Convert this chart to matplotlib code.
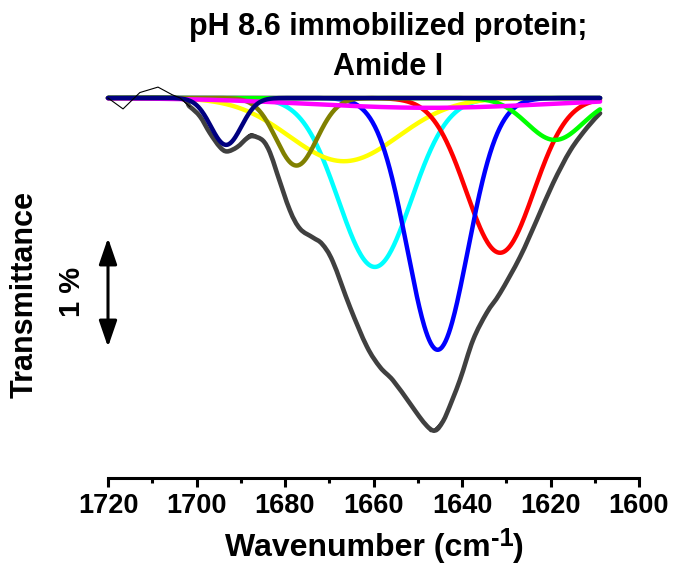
import numpy as np
import matplotlib
matplotlib.use("Agg")
import matplotlib.pyplot as plt
from matplotlib.patches import FancyArrowPatch, PathPatch
from matplotlib.path import Path

plt.rcParams['font.family'] = ['Liberation Sans', 'DejaVu Sans']
plt.rcParams['font.weight'] = 'bold'

# ---- data ----
# deconvoluted component bands: centre (cm-1), depth (% T), sigma (cm-1)
band_colors = ['#00FFFF', '#FFFF00', '#FF0000', '#0000FF', '#00FF00', '#808000', '#FF00FF', '#000080']
band_centers = [1659.7, 1666.7, 1631.4, 1645.5, 1619.0, 1677.4, 1647.2, 1693.3]
band_depths = [1.55, 0.58, 1.42, 2.31, 0.385, 0.62, 0.09, 0.43]
band_sigmas = [8.2, 12.3, 7.6, 6.8, 6.3, 4.6, 27.0, 3.45]

# fitted envelope (dark grey)
fit_wn = [1720, 1704.4, 1701.5, 1699.2, 1697.0, 1694.7, 1693.1, 1690.8, 1688.6, 1687.2,
          1685.0, 1683.4, 1681.8, 1678.9, 1676.6, 1673.7, 1671.6, 1669.2, 1665.3, 1661.5,
          1658.5, 1655.6, 1651.8, 1649.7, 1647.9, 1646.6, 1645.6, 1644.5, 1643.4, 1640.5,
          1637.5, 1634.4, 1631.4, 1626.9, 1623.1, 1619.4, 1615.5, 1611.7, 1608.8]
fit_T = [0, 0, -0.08, -0.17, -0.32, -0.45, -0.49, -0.45, -0.37, -0.35,
         -0.39, -0.50, -0.69, -1.03, -1.20, -1.28, -1.34, -1.50, -1.92, -2.28,
         -2.47, -2.59, -2.80, -2.92, -3.01, -3.05, -3.04, -2.98, -2.89, -2.59,
         -2.22, -1.97, -1.79, -1.46, -1.12, -0.78, -0.48, -0.27, -0.14]

# measured spectrum (thin black)
raw_wn = [1720, 1716.6, 1712.8, 1708.7, 1705.5, 1703.7, 1701.5, 1699.2, 1697.0, 1694.7,
          1693.1, 1690.8, 1688.6, 1687.2, 1685.0, 1683.4, 1681.8, 1678.9, 1676.6, 1673.7,
          1671.6, 1669.2, 1665.3, 1661.5, 1658.5, 1655.6, 1651.8, 1647.9, 1646.6, 1643.4,
          1640.5, 1637.5, 1634.4, 1631.4, 1626.9, 1623.1, 1619.4, 1615.5, 1611.7, 1608.8]
raw_T = [0, -0.10, 0.05, 0.10, 0.03, 0, -0.08, -0.17, -0.32, -0.45,
         -0.49, -0.45, -0.35, -0.33, -0.39, -0.50, -0.69, -1.03, -1.20, -1.28,
         -1.34, -1.50, -1.92, -2.28, -2.47, -2.59, -2.80, -3.02, -3.05, -2.89,
         -2.59, -2.22, -1.97, -1.79, -1.46, -1.12, -0.78, -0.48, -0.27, -0.14]

title_lines = ['pH 8.6 immobilized protein;', 'Amide I']
xticks = [1720, 1700, 1680, 1660, 1640, 1620, 1600]


def smooth_path(xs, ys):
    """Cubic Bezier path passing through every given point (Catmull-Rom tangents)."""
    p = np.column_stack([xs, ys]).astype(float)
    n = len(p)
    verts = [p[0]]
    codes = [Path.MOVETO]
    for i in range(n - 1):
        p0 = p[i - 1] if i > 0 else p[i]
        p3 = p[i + 2] if i + 2 < n else p[i + 1]
        c1 = p[i] + (p[i + 1] - p0) / 6.0
        c2 = p[i + 1] - (p3 - p[i]) / 6.0
        verts += [c1, c2, p[i + 1]]
        codes += [Path.CURVE4] * 3
    return Path(verts, codes)


W, H = 674, 569
fig = plt.figure(figsize=(W / 100, H / 100), dpi=100)
ax = fig.add_axes([108 / W, 1 - 478 / H, (639 - 108) / W, (478 - 90) / H])

grid = np.linspace(fit_wn[0], fit_wn[-1], 600)
for c, mu, d, s in zip(band_colors, band_centers, band_depths, band_sigmas):
    ax.plot(grid, -d * np.exp(-0.5 * ((grid - mu) / s) ** 2), color=c, lw=3.2,
            solid_capstyle='round', clip_on=False)

ax.plot(raw_wn[:7], raw_T[:7], color='black', lw=0.8, clip_on=False)
ax.add_patch(PathPatch(smooth_path(raw_wn[5:], raw_T[5:]), facecolor='none',
                       edgecolor='black', lw=0.8, clip_on=False))
ax.add_patch(PathPatch(smooth_path(fit_wn, fit_T), facecolor='none',
                       edgecolor='#404040', lw=3.3, capstyle='round',
                       joinstyle='round', clip_on=False))

ax.set_xlim(1720, 1600)
ax.set_ylim(-(478 - 98) / 109, (98 - 90) / 109)
for sp in ['top', 'right', 'left']:
    ax.spines[sp].set_visible(False)
ax.spines['bottom'].set_linewidth(2.2)
ax.set_yticks([])
ax.set_xticks(xticks)
ax.set_xticks(np.arange(1710, 1600, -20), minor=True)
ax.tick_params(axis='x', which='major', direction='out', length=6.5, width=2.2,
               labelsize=19.5, pad=4)
ax.tick_params(axis='x', which='minor', direction='out', length=3.6, width=2.2)
for lab in ax.get_xticklabels():
    lab.set_fontweight('bold')

# x label built from pieces so the superscript uses a plain hyphen
fig.canvas.draw()
renderer = fig.canvas.get_renderer()
xl_size = 23
parts = [('Wavenumber (cm', xl_size, 0), ('-1', xl_size * 0.8, 10), (')', xl_size, 0)]
objs = []
for txt, sz, dy in parts:
    t = fig.text(0, 0, txt, fontsize=sz, fontweight='bold', ha='left', va='baseline')
    objs.append((t, dy))
widths = [t.get_window_extent(renderer).width for t, _ in objs]
total = sum(widths)
x0 = 374.5 - total / 2
base = 556
for (t, dy), w in zip(objs, widths):
    t.set_position((x0 / W, 1 - (base - dy) / H))
    x0 += w

fig.text(388 / W, 1 - 35 / H, title_lines[0], ha='center', va='baseline',
         fontsize=22, fontweight='bold')
fig.text(388 / W, 1 - 75 / H, title_lines[1], ha='center', va='baseline',
         fontsize=22, fontweight='bold')
fig.text(25 / W, 1 - 295 / H, 'Transmittance', ha='center', va='center',
         rotation=90, fontsize=22, fontweight='bold')
fig.text(72 / W, 1 - 292 / H, '1 %', ha='center', va='center',
         rotation=90, fontsize=21, fontweight='bold')

arr = FancyArrowPatch((108 / W, 1 - 238 / H), (108 / W, 1 - 347 / H),
                      transform=fig.transFigure,
                      arrowstyle='<|-|>,head_length=1.6,head_width=0.55',
                      mutation_scale=10, lw=2.2, color='black',
                      shrinkA=0, shrinkB=0)
fig.patches.append(arr)

fig.savefig('out.png', dpi=100)
